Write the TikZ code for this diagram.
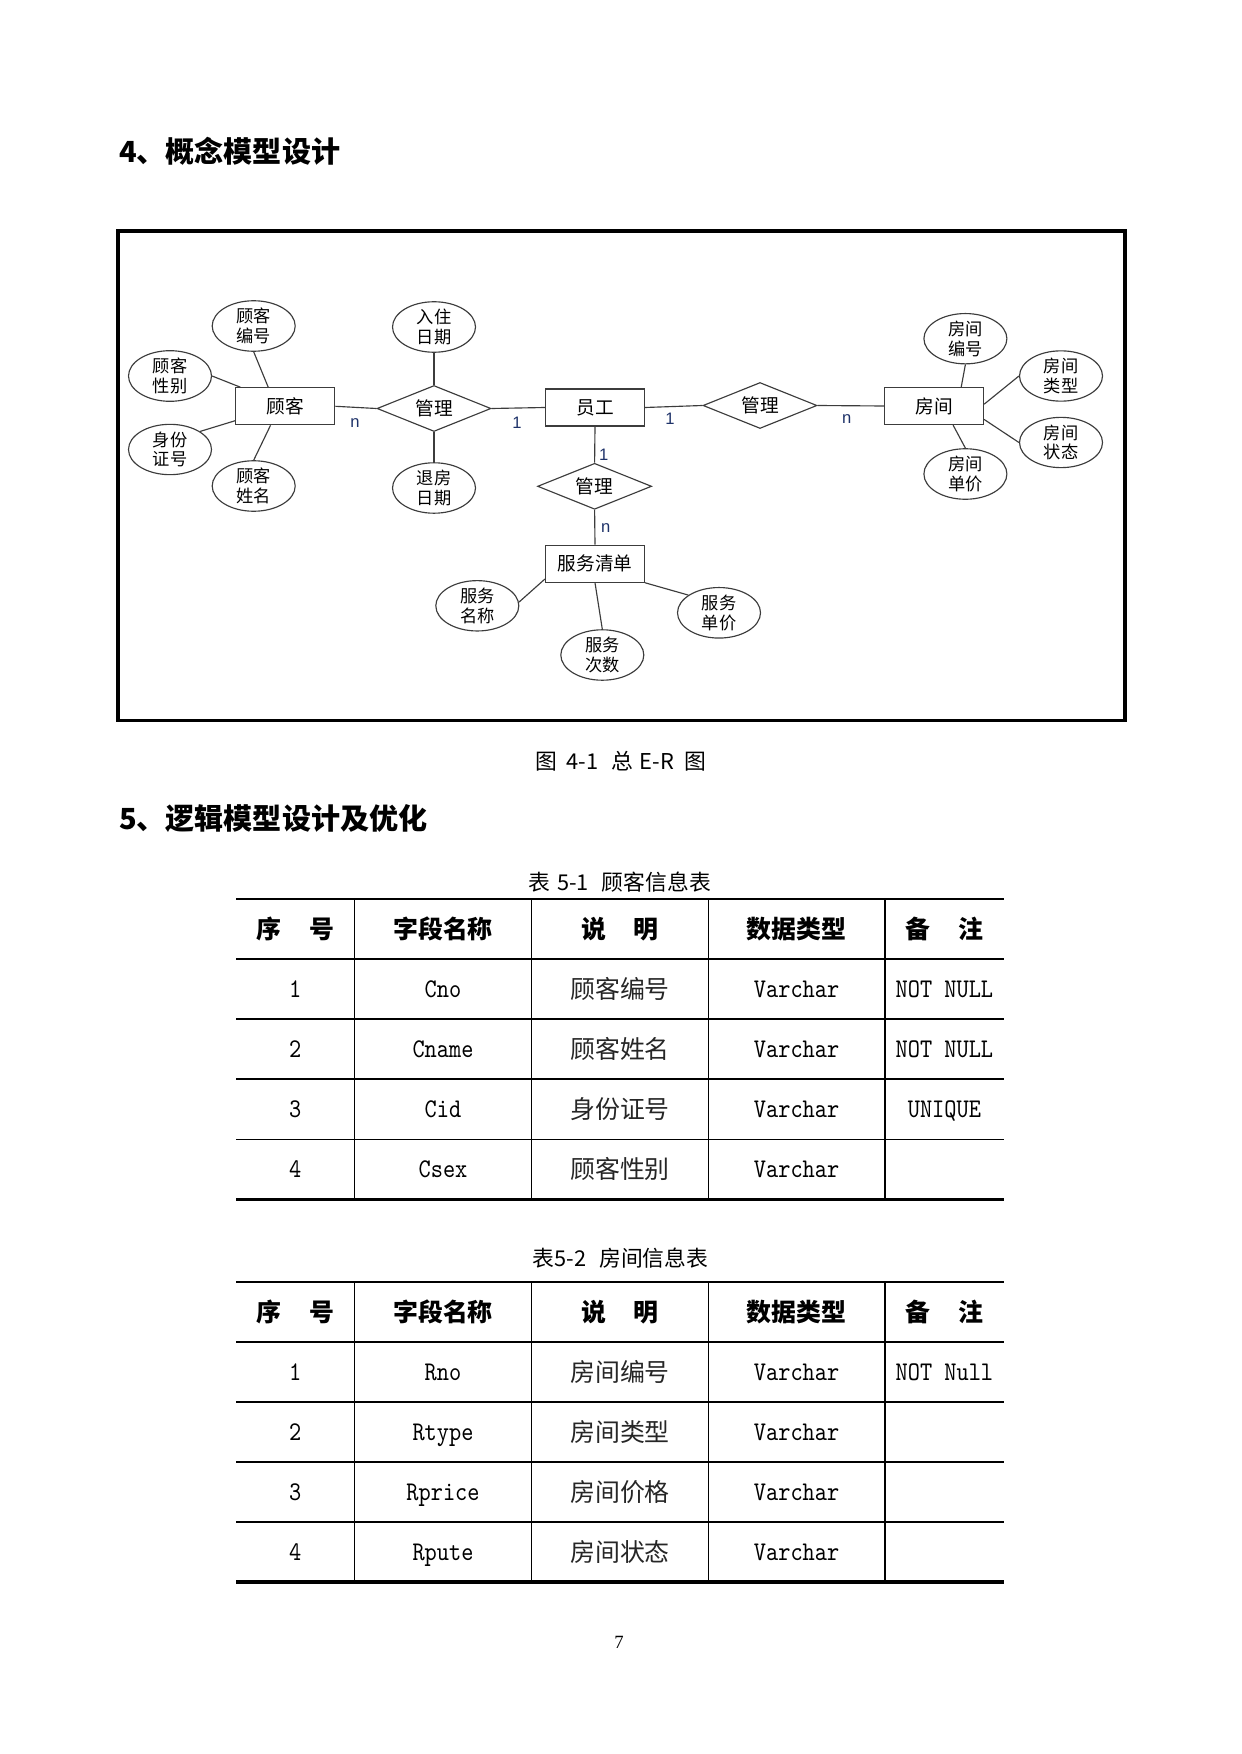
\documentclass[tikz,border=0pt]{standalone}
\usepackage{fontspec}
\usetikzlibrary{shapes.geometric}
\setmainfont{Liberation Serif}
\newfontfamily\cjk{Noto Sans CJK SC}
\newfontfamily\lab{Liberation Sans}
\newfontfamily\cellmono[Extension=.otf,FakeStretch=0.86]{lmmono10-regular}
\newcommand\pxu{0.4818pt}
\definecolor{erline}{RGB}{60,60,60}
\definecolor{cardcol}{RGB}{30,50,105}
\tikzset{
  conn/.style={draw=erline, line width=0.55pt},
  entbox/.style={draw=erline, line width=0.55pt, rectangle, minimum width=99*\pxu, minimum height=37*\pxu, inner sep=0pt, font=\cjk\fontsize{9pt}{11pt}\selectfont},
  relbox/.style={draw=erline, line width=0.55pt, diamond, aspect=2.5, minimum width=114*\pxu, minimum height=46*\pxu, inner sep=0pt, font=\cjk\fontsize{9pt}{11pt}\selectfont},
  attrbox/.style={draw=erline, line width=0.55pt, ellipse, minimum width=83*\pxu, minimum height=48*\pxu, inner sep=0pt, align=center, font=\cjk\fontsize{8.3pt}{9.5pt}\selectfont},
  card/.style={font=\lab\fontsize{8pt}{9pt}\selectfont, text=cardcol, inner sep=0pt},
  heading/.style={anchor=west, inner sep=0pt, font=\cjk\bfseries\fontsize{14pt}{16pt}\selectfont},
  caption/.style={inner sep=0pt, font=\cjk\fontsize{10.5pt}{12pt}\selectfont},
  headcell/.style={inner sep=0pt, text height=11pt, text depth=1.9pt, font=\cjk\bfseries\fontsize{12pt}{14pt}\selectfont},
  zhcell/.style={inner sep=0pt, text height=11pt, text depth=1.9pt, font=\cjk\fontsize{12pt}{14pt}\selectfont, text=black!85},
  monocell/.style={inner sep=0pt, text height=10pt, text depth=2.2pt, font=\cellmono\fontsize{13pt}{15pt}\selectfont},
  toprule/.style={line width=1pt},
  midrule/.style={line width=0.7pt},
  botrule/.style={line width=1.3pt},
  vrule/.style={line width=0.6pt},
}
\begin{document}
\begin{tikzpicture}[x=0.4818pt, y=-0.4818pt]
\fill[white] (0,0) rectangle (1241,1754);
\useasboundingbox (0,0) rectangle (1241,1754);

% headings
\node[heading] (h4) at (118.6,151) {4、概念模型设计};

% frame
\draw[line width=1.8pt] (118,230.7) rectangle (1124.8,720.5);

% entities and relations
\node[entbox] (gk) at (285.4,406.3) {顾客};
\node[relbox] (r1) at (434,408.5) {管理};
\node[entbox] (yg) at (595,407.5) {员工};
\node[relbox] (r3) at (760,405.5) {管理};
\node[entbox] (fj) at (934,406) {房间};
\node[relbox] (r2) at (594.6,486.3) {管理};
\node[entbox] (fw) at (595,563.7) {服务清单};

% attributes
\node[attrbox] (a1) at (253.7,326) {顾客\\编号};
\node[attrbox] (a2) at (170,376) {顾客\\性别};
\node[attrbox] (a3) at (170,449.5) {身份\\证号};
\node[attrbox] (a4) at (253.7,486) {顾客\\姓名};
\node[attrbox] (a5) at (434,327) {入住\\日期};
\node[attrbox] (a6) at (434,488) {退房\\日期};
\node[attrbox] (b1) at (965.4,338.7) {房间\\编号};
\node[attrbox] (b2) at (1061,376) {房间\\类型};
\node[attrbox] (b3) at (1061,442.5) {房间\\状态};
\node[attrbox] (b4) at (965.4,474) {房间\\单价};
\node[attrbox] (c1) at (477.3,605.8) {服务\\名称};
\node[attrbox] (c2) at (602.3,655) {服务\\次数};
\node[attrbox] (c3) at (719,612.8) {服务\\单价};

% connectors
\draw[conn] (a1.south) -- (gk.132);
\draw[conn] (a2.east) -- (gk.157);
\draw[conn] (a3.31) -- (gk.196);
\draw[conn] (a4.north) -- (gk.232);
\draw[conn] (gk.east) -- (r1.west);
\draw[conn] (a5.south) -- (r1.north);
\draw[conn] (r1.south) -- (a6.north);
\draw[conn] (r1.east) -- (yg.west);
\draw[conn] (yg.east) -- (r3.west);
\draw[conn] (r3.east) -- (fj.west);
\draw[conn] (yg.south) -- (r2.north);
\draw[conn] (r2.south) -- (fw.north);
\draw[conn] (b1.south) -- (fj.35);
\draw[conn] (b2.west) -- (fj.2);
\draw[conn] (b3.west) -- (fj.-15);
\draw[conn] (b4.north) -- (fj.-45);
\draw[conn] (c1.5) -- (fw.197);
\draw[conn] (fw.south) -- (c2.north);
\draw[conn] (fw.south east) -- (c3.150);

% cardinalities
\node[card] (n1) at (355,423) {n};
\node[card] (o1) at (517,422.3) {1};
\node[card] (o2) at (670,418.3) {1};
\node[card] (n2) at (846.7,419) {n};
\node[card] (o3) at (603.7,455) {1};
\node[card] (n3) at (605.7,527.7) {n};

% figure caption
\node[caption] (cap1) at (620.5,761) {图\hspace{0.45em}4-1\hspace{0.6em}总\hspace{0.3em}E-R\hspace{0.45em}图};

\node[heading] (h5) at (118.6,818) {5、逻辑模型设计及优化};

% ---------- table 1 ----------
\node[caption] (cap2) at (619.8,882) {表\hspace{0.3em}5-1\hspace{0.6em}顾客信息表};
\draw[toprule] (236,898.6) -- (1003.8,898.6);
\draw[midrule] (236,958.8) -- (1003.8,958.8);
\foreach \k in {1,2,3} \draw[midrule] (236,{958.8+60.2*\k}) -- (1003.8,{958.8+60.2*\k});
\draw[botrule] (236,1199.6) -- (1003.8,1199.6);
\foreach \x in {354.6,531.4,708.3,885} \draw[vrule] (\x,898.6) -- (\x,1199.6);
\node[headcell] (ta-h1) at (295.3,928.7) {序\hspace{1.1em}号};
\node[headcell] (ta-h2) at (443,928.7) {字段名称};
\node[headcell] (ta-h3) at (620,928.7) {说\hspace{1.1em}明};
\node[headcell] (ta-h4) at (796.6,928.7) {数据类型};
\node[headcell] (ta-h5) at (944.4,928.7) {备\hspace{1.1em}注};
\foreach \i/\a/\b/\c/\d/\e in {1/1/Cno/顾客编号/Varchar/NOT NULL,2/2/Cname/顾客姓名/Varchar/NOT NULL,3/3/Cid/身份证号/Varchar/UNIQUE,4/4/Csex/顾客性别/Varchar/{}}{
  \node[monocell] (ta-\i-1) at (295.3,{958.8+60.2*(\i-0.5)}) {\a};
  \node[monocell] (ta-\i-2) at (443,{958.8+60.2*(\i-0.5)}) {\b};
  \node[zhcell] (ta-\i-3) at (620,{958.8+60.2*(\i-0.5)}) {\c};
  \node[monocell] (ta-\i-4) at (796.6,{958.8+60.2*(\i-0.5)}) {\d};
  \node[monocell] (ta-\i-5) at (944.4,{958.8+60.2*(\i-0.5)}) {\e};
}

% ---------- table 2 ----------
\node[caption] (cap3) at (620.4,1257.8) {表5-2\hspace{0.6em}房间信息表};
\draw[toprule] (236,1282) -- (1003.8,1282);
\draw[midrule] (236,1342) -- (1003.8,1342);
\foreach \k in {1,2,3} \draw[midrule] (236,{1342+60*\k}) -- (1003.8,{1342+60*\k});
\draw[botrule, line width=1.5pt] (236,1582) -- (1003.8,1582);
\foreach \x in {354.6,531.4,708.3,885} \draw[vrule] (\x,1282) -- (\x,1582);
\node[headcell] (tb-h1) at (295.3,1312) {序\hspace{1.1em}号};
\node[headcell] (tb-h2) at (443,1312) {字段名称};
\node[headcell] (tb-h3) at (620,1312) {说\hspace{1.1em}明};
\node[headcell] (tb-h4) at (796.6,1312) {数据类型};
\node[headcell] (tb-h5) at (944.4,1312) {备\hspace{1.1em}注};
\foreach \i/\a/\b/\c/\d/\e in {1/1/Rno/房间编号/Varchar/NOT Null,2/2/Rtype/房间类型/Varchar/{},3/3/Rprice/房间价格/Varchar/{},4/4/Rpute/房间状态/Varchar/{}}{
  \node[monocell] (tb-\i-1) at (295.3,{1342+60*(\i-0.5)}) {\a};
  \node[monocell] (tb-\i-2) at (443,{1342+60*(\i-0.5)}) {\b};
  \node[zhcell] (tb-\i-3) at (620,{1342+60*(\i-0.5)}) {\c};
  \node[monocell] (tb-\i-4) at (796.6,{1342+60*(\i-0.5)}) {\d};
  \node[monocell] (tb-\i-5) at (944.4,{1342+60*(\i-0.5)}) {\e};
}

% page number
\node[inner sep=0pt, font=\fontsize{9pt}{10pt}\selectfont] (pg) at (619,1642) {7};
\end{tikzpicture}
\end{document}
